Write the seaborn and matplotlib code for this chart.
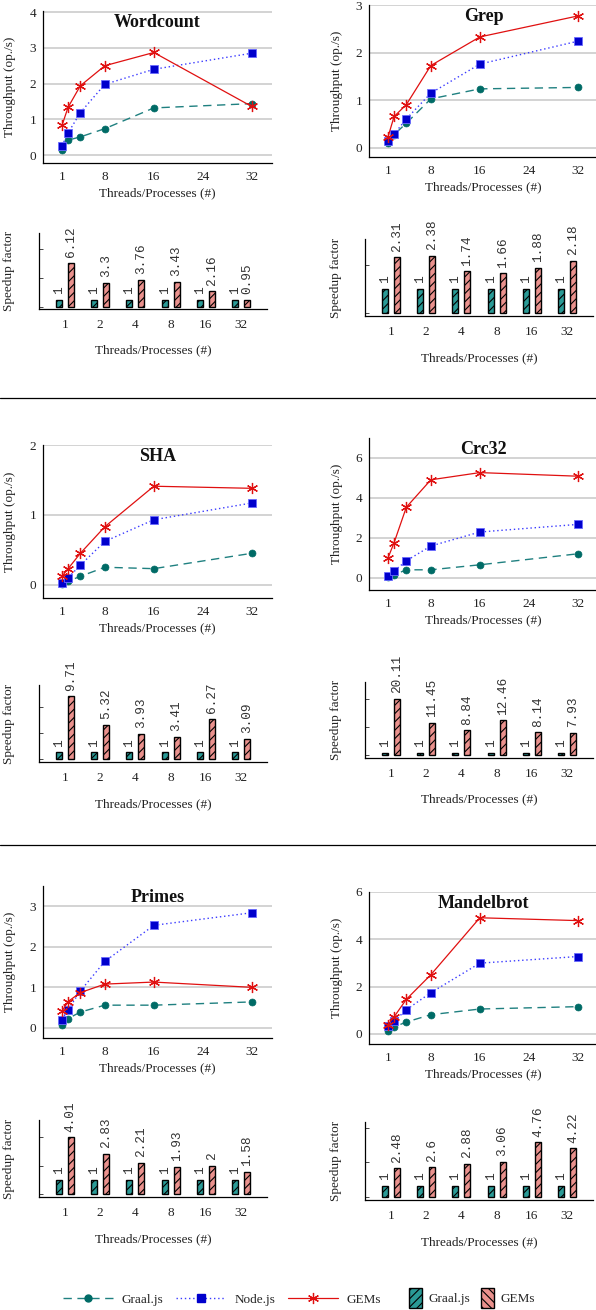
import numpy as np
import pandas as pd
import matplotlib
matplotlib.use("Agg")
import matplotlib.pyplot as plt
import seaborn as sns
from matplotlib.lines import Line2D
from matplotlib.patches import Patch
from matplotlib.ticker import MaxNLocator

# ---------------- data ----------------
threads = [1, 2, 4, 8, 16, 32]
thread_labels = ["1", "2", "4", "8", "16", "32"]
benchmarks = ["Wordcount", "Grep", "SHA", "Crc32", "Primes", "Mandelbrot"]

wordcount_graal = [0.14, 0.42, 0.51, 0.74, 1.32, 1.44]
wordcount_node = [0.26, 0.62, 1.19, 1.98, 2.40, 2.85]
wordcount_gems = [0.83, 1.34, 1.94, 2.50, 2.87, 1.36]
wordcount_speedup = [6.12, 3.3, 3.76, 3.43, 2.16, 0.95]

grep_graal = [0.10, 0.28, 0.52, 1.03, 1.24, 1.27]
grep_node = [0.14, 0.29, 0.61, 1.15, 1.76, 2.24]
grep_gems = [0.23, 0.66, 0.91, 1.73, 2.33, 2.77]
grep_speedup = [2.31, 2.38, 1.74, 1.66, 1.88, 2.18]

sha_graal = [0.015, 0.05, 0.12, 0.25, 0.23, 0.45]
sha_node = [0.03, 0.10, 0.28, 0.62, 0.93, 1.17]
sha_gems = [0.12, 0.23, 0.45, 0.83, 1.41, 1.38]
sha_speedup = [9.71, 5.32, 3.93, 3.41, 6.27, 3.09]

crc32_graal = [0.05, 0.16, 0.41, 0.41, 0.66, 1.21]
crc32_node = [0.10, 0.35, 0.86, 1.60, 2.30, 2.68]
crc32_gems = [1.00, 1.77, 3.54, 4.91, 5.27, 5.09]
crc32_speedup = [20.11, 11.45, 8.84, 12.46, 8.14, 7.93]

primes_graal = [0.08, 0.23, 0.39, 0.56, 0.56, 0.64]
primes_node = [0.20, 0.45, 0.91, 1.64, 2.53, 2.84]
primes_gems = [0.41, 0.65, 0.87, 1.08, 1.13, 1.00]
primes_speedup = [4.01, 2.83, 2.21, 1.93, 2, 1.58]

mandel_graal = [0.14, 0.29, 0.50, 0.81, 1.05, 1.15]
mandel_node = [0.32, 0.53, 1.02, 1.74, 2.99, 3.27]
mandel_gems = [0.39, 0.72, 1.46, 2.50, 4.91, 4.79]
mandel_speedup = [2.48, 2.6, 2.88, 3.06, 4.76, 4.22]

graal_baseline = [1, 1, 1, 1, 1, 1]

series_names = ["Graal.js", "Node.js", "GEMs"]
bar_names = ["Graal.js", "GEMs"]

line_data = {
    "Wordcount": (wordcount_graal, wordcount_node, wordcount_gems),
    "Grep": (grep_graal, grep_node, grep_gems),
    "SHA": (sha_graal, sha_node, sha_gems),
    "Crc32": (crc32_graal, crc32_node, crc32_gems),
    "Primes": (primes_graal, primes_node, primes_gems),
    "Mandelbrot": (mandel_graal, mandel_node, mandel_gems),
}
speedup_data = {
    "Wordcount": wordcount_speedup,
    "Grep": grep_speedup,
    "SHA": sha_speedup,
    "Crc32": crc32_speedup,
    "Primes": primes_speedup,
    "Mandelbrot": mandel_speedup,
}

# ---------------- style ----------------
sns.set_theme(style="white")
plt.rcParams["font.family"] = ["Liberation Serif", "DejaVu Serif"]
plt.rcParams["hatch.linewidth"] = 0.8
plt.rcParams["axes.linewidth"] = 0.9

W, H = 596, 1310
fig = plt.figure(figsize=(W / 100, H / 100), dpi=100)


def rect(l, t, r, b):
    return [l / W, 1 - b / H, (r - l) / W, (b - t) / H]


C_GRAAL_LINE = "#1f8080"
C_GRAAL_MK = "#006b66"
C_NODE = "#0000cc"
C_NODE_LINE = "#3a3aff"
C_GEMS = "#e01010"
C_BAR_GRAAL = "#2a9a96"
C_BAR_GEMS = "#ea918d"

line_pos = {
    "Wordcount": (43, 11, 272, 163),
    "Grep": (369, 5, 598, 157),
    "SHA": (43, 445, 272, 598),
    "Crc32": (369, 438, 598, 590),
    "Primes": (43, 886, 272, 1038),
    "Mandelbrot": (369, 892, 598, 1044),
}
line_ylim = {
    "Wordcount": (-0.22, 4.03, [0, 1, 2, 3, 4]),
    "Grep": (-0.19, 3.0, [0, 1, 2, 3]),
    "SHA": (-0.19, 2.0, [0, 1, 2]),
    "Crc32": (-0.6, 7.0, [0, 2, 4, 6]),
    "Primes": (-0.25, 3.5, [0, 1, 2, 3]),
    "Mandelbrot": (-0.43, 6.0, [0, 2, 4, 6]),
}
bar_pos = {
    "Wordcount": (39, 233, 267, 309),
    "Grep": (365, 239, 593, 316),
    "SHA": (39, 685, 267, 762),
    "Crc32": (365, 682, 593, 758),
    "Primes": (39, 1120, 267, 1197),
    "Mandelbrot": (365, 1122, 593, 1200),
}
bar_ylim = {
    "Wordcount": (-0.3, 10.2),
    "Grep": (-0.13, 3.08),
    "SHA": (-0.5, 11.5),
    "Crc32": (-0.95, 26),
    "Primes": (-0.23, 5.24),
    "Mandelbrot": (-0.25, 6.5),
}

TICK_FS = 9.5
LABEL_FS = 9.5

for name in benchmarks:
    l, t, r, b = line_pos[name]
    ax = fig.add_axes(rect(l, t, r, b))
    g, n, s = line_data[name]
    sns.lineplot(x=threads, y=g, ax=ax, color=C_GRAAL_LINE, linestyle=(0, (6, 4)),
                 lw=1.0, marker="o", markersize=5, markerfacecolor=C_GRAAL_MK,
                 markeredgecolor=C_GRAAL_MK, markeredgewidth=0.5, zorder=3)
    sns.lineplot(x=threads, y=n, ax=ax, color=C_NODE_LINE, linestyle=(0, (1, 2)),
                 lw=1.0, marker="s", markersize=5.2, markerfacecolor=C_NODE,
                 markeredgecolor="#6a6aff", markeredgewidth=0.6, zorder=4)
    sns.lineplot(x=threads, y=s, ax=ax, color=C_GEMS, linestyle="-",
                 lw=0.9, marker=(6, 2, 0), markersize=8, markerfacecolor=C_GEMS,
                 markeredgecolor=C_GEMS, markeredgewidth=0.9, zorder=5)
    y0, y1, yt = line_ylim[name]
    ax.set_ylim(y0, y1)
    ax.set_xlim(-2.1, 35.3)
    ax.set_xticks([1, 8, 16, 24, 32])
    ax.set_yticks(yt)
    ax.grid(axis="y", color="#c8c8c8", lw=1.1)
    ax.grid(axis="x", visible=False)
    ax.set_axisbelow(True)
    for sp in ["top", "right"]:
        ax.spines[sp].set_visible(False)
    for sp in ["left", "bottom"]:
        ax.spines[sp].set_color("black")
    ax.tick_params(axis="both", length=0, labelsize=TICK_FS, colors="#222222")
    ax.tick_params(axis="x", pad=6)
    ax.tick_params(axis="y", pad=5)
    ax.set_xlabel("Threads/Processes (#)", fontsize=LABEL_FS, color="#222222")
    ax.set_ylabel("Throughput (op./s)", fontsize=LABEL_FS, color="#222222")
    ax.xaxis.set_label_coords(0.5, -0.16)
    ax.yaxis.set_label_coords(-0.12 if l < 300 else -0.115, 0.5)
    ax.text(0.5, 0.925, name, transform=ax.transAxes, ha="center", va="center",
            fontsize=13, weight="bold", color="#111111")
    ax.legend_ = None

for name in benchmarks:
    l, t, r, b = bar_pos[name]
    ax = fig.add_axes(rect(l, t, r, b))
    sp_vals = speedup_data[name]
    df = pd.DataFrame({
        "threads": thread_labels * 2,
        "runtime": [bar_names[0]] * 6 + [bar_names[1]] * 6,
        "speedup": list(graal_baseline) + list(sp_vals),
    })
    sns.barplot(data=df, x="threads", y="speedup", hue="runtime",
                order=thread_labels, hue_order=bar_names,
                palette=[C_BAR_GRAAL, C_BAR_GEMS], width=0.68, gap=0.5,
                edgecolor="black", linewidth=1.0, legend=False, ax=ax,
                saturation=1)
    hatches = ["////", "////"]
    for cont, h, vals in zip(ax.containers, hatches, [graal_baseline, sp_vals]):
        for p in cont.patches:
            p.set_hatch(h)
        ax.bar_label(cont, labels=[f"{v:g}" for v in vals], rotation=90,
                     padding=4, fontsize=9.2, family="Liberation Mono",
                     color="#333333")
    ax.set_ylim(*bar_ylim[name])
    ax.set_xlim(-0.73, 5.73)
    ax.yaxis.set_major_locator(MaxNLocator(nbins=3, integer=True))
    ax.set_yticklabels([])
    for sp in ["top", "right"]:
        ax.spines[sp].set_visible(False)
    for sp in ["left", "bottom"]:
        ax.spines[sp].set_color("black")
    ax.tick_params(axis="x", length=0, labelsize=TICK_FS, pad=7, colors="#222222")
    ax.tick_params(axis="y", direction="in", length=3, width=0.6, left=True)
    ax.set_xlabel("Threads/Processes (#)", fontsize=LABEL_FS, color="#222222")
    ax.set_ylabel("Speedup factor", fontsize=LABEL_FS, color="#222222")
    ax.xaxis.set_label_coords(0.5, -0.47)
    ax.yaxis.set_label_coords(-0.105 if l < 300 else -0.1, 0.5)

# separators
for ysep in [398, 845]:
    fig.add_artist(Line2D([0, 1], [1 - ysep / H, 1 - ysep / H], color="black",
                          lw=0.9, transform=fig.transFigure))

# legends
line_handles = [
    Line2D([], [], color=C_GRAAL_LINE, linestyle=(0, (6, 4)), lw=1.0, marker="o",
           markersize=5, markerfacecolor=C_GRAAL_MK, markeredgecolor=C_GRAAL_MK),
    Line2D([], [], color=C_NODE_LINE, linestyle=(0, (1, 2)), lw=1.0, marker="s",
           markersize=5.2, markerfacecolor=C_NODE, markeredgecolor=C_NODE),
    Line2D([], [], color=C_GEMS, linestyle="-", lw=0.9, marker=(6, 2, 0),
           markersize=8, markeredgecolor=C_GEMS, markeredgewidth=0.9),
]
fig.legend(line_handles, series_names, loc="center", bbox_to_anchor=(222 / W, 1 - 1300 / H),
           ncol=3, frameon=False, fontsize=9.5, handlelength=3.8, columnspacing=1.0,
           handletextpad=0.6)
bar_handles = [
    Patch(facecolor=C_BAR_GRAAL, edgecolor="black", hatch="////", lw=1.0),
    Patch(facecolor=C_BAR_GEMS, edgecolor="black", hatch="\\\\\\\\", lw=1.0),
]
fig.legend(bar_handles, bar_names, loc="center", bbox_to_anchor=(472 / W, 1 - 1298 / H),
           ncol=2, frameon=False, fontsize=9.5, handlelength=1.0, handleheight=2.0,
           columnspacing=0.8, handletextpad=0.5)

fig.savefig("out.png", dpi=100, facecolor="white")
